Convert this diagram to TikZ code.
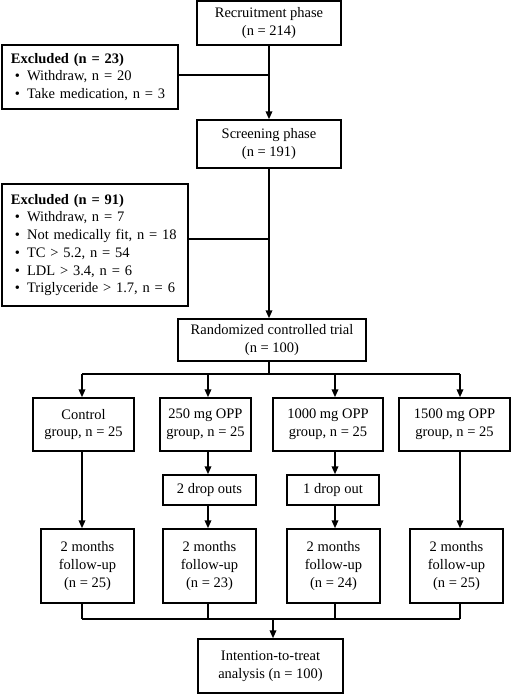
\documentclass[tikz,border=0pt]{standalone}
\usepackage{fontspec}
\setmainfont{Liberation Serif}
\usetikzlibrary{arrows.meta,positioning}

% bullet used in the exclusion lists
\newcommand{\itembul}{\hspace*{4bp}\textbullet\hspace{7bp}}

\begin{document}
\begin{tikzpicture}[x=1bp, y=-1bp,
  box/.style={draw, line width=1.4bp, align=center, inner sep=0pt, font=\fontsize{14.5bp}{17.7bp}\selectfont},
  excl/.style={box, align=left, inner xsep=9bp},
  link/.style={line width=1.8bp},
  arr/.style={link, -{Triangle[length=8bp,width=6.5bp]}}]
\useasboundingbox (0,0) rectangle (512,696);
% enrolment
\node[box, minimum width=144bp, minimum height=44bp] (recruit) at (269,23) {Recruitment phase\\(n = 214)};
\node[excl, text width=158bp, minimum height=64bp] (excl1) at (90,77) {\textbf{Excluded (n = 23)}\\\itembul Withdraw, n = 20\\\itembul Take medication, n = 3};
\node[box, minimum width=144bp, minimum height=48bp] (screen) at (269,144) {Screening phase\\(n = 191)};
\node[excl, text width=168bp, minimum height=122bp] (excl2) at (95,245) {\textbf{Excluded (n = 91)}\\\itembul Withdraw, n = 7\\\itembul Not medically fit, n = 18\\\itembul TC > 5.2, n = 54\\\itembul LDL > 3.4, n = 6\\\itembul Triglyceride > 1.7, n = 6};
\node[box, minimum width=188bp, minimum height=42bp] (rct) at (272,340) {Randomized controlled trial\\(n = 100)};
% allocation
\node[box, minimum width=101bp, minimum height=53bp] (g1) at (83.5,424.5) {Control\\group, n = 25};
\node[box, minimum width=91bp, minimum height=53bp] (g2) at (205.5,424.5) {250 mg OPP\\group, n = 25};
\node[box, minimum width=110bp, minimum height=53bp] (g3) at (328,424.5) {1000 mg OPP\\group, n = 25};
\node[box, minimum width=111bp, minimum height=53bp] (g4) at (454.5,424.5) {1500 mg OPP\\group, n = 25};
\node[box, minimum width=93bp, minimum height=30bp] (d2) at (209.5,490) {2 drop outs};
\node[box, minimum width=92bp, minimum height=30bp] (d3) at (333,490) {1 drop out};
% follow-up and analysis
\node[box, minimum width=93bp, minimum height=74bp] (fu1) at (87.5,566) {2 months\\follow-up\\(n = 25)};
\node[box, minimum width=93bp, minimum height=74bp] (fu2) at (209.5,566) {2 months\\follow-up\\(n = 23)};
\node[box, minimum width=93bp, minimum height=74bp] (fu3) at (333.5,566) {2 months\\follow-up\\(n = 24)};
\node[box, minimum width=93bp, minimum height=74bp] (fu4) at (456.5,566) {2 months\\follow-up\\(n = 25)};
\node[box, minimum width=145bp, minimum height=54bp] (itt) at (270.5,666) {Intention-to-treat\\analysis (n = 100)};
\coordinate (split) at (269,374);
\coordinate (merge) at (273,619);
\coordinate (c1) at (82,0);
\coordinate (c2) at (208,0);
\coordinate (c3) at (335,0);
\coordinate (c4) at (460,0);
% connectors
\draw[arr] (recruit) -- (screen);
\draw[link] ([yshift=2bp]excl1.east) -- ([yshift=2bp]excl1.east -| recruit.south);
\draw[arr] (screen) -- (screen.south |- rct.north);
\draw[link] ([yshift=6bp]excl2.east) -- ([yshift=6bp]excl2.east -| screen.south);
\draw[link] (rct.south -| split) -- (split);
\draw[link] (c1 |- split) -- (c4 |- split);
\foreach \i in {1,...,4}
  \draw[arr] (c\i |- split) -- (c\i |- g\i.north);
\draw[arr] (c1 |- g1.south) -- (c1 |- fu1.north);
\draw[arr] (c2 |- g2.south) -- (c2 |- d2.north);
\draw[arr] (c2 |- d2.south) -- (c2 |- fu2.north);
\draw[arr] (c3 |- g3.south) -- (c3 |- d3.north);
\draw[arr] (c3 |- d3.south) -- (c3 |- fu3.north);
\draw[arr] (c4 |- g4.south) -- (c4 |- fu4.north);
\foreach \i in {1,...,4}
  \draw[link] (c\i |- fu\i.south) -- (c\i |- merge);
\draw[link] (c1 |- merge) -- (c4 |- merge);
\draw[arr] (merge) -- (merge |- itt.north);
\end{tikzpicture}
\end{document}
